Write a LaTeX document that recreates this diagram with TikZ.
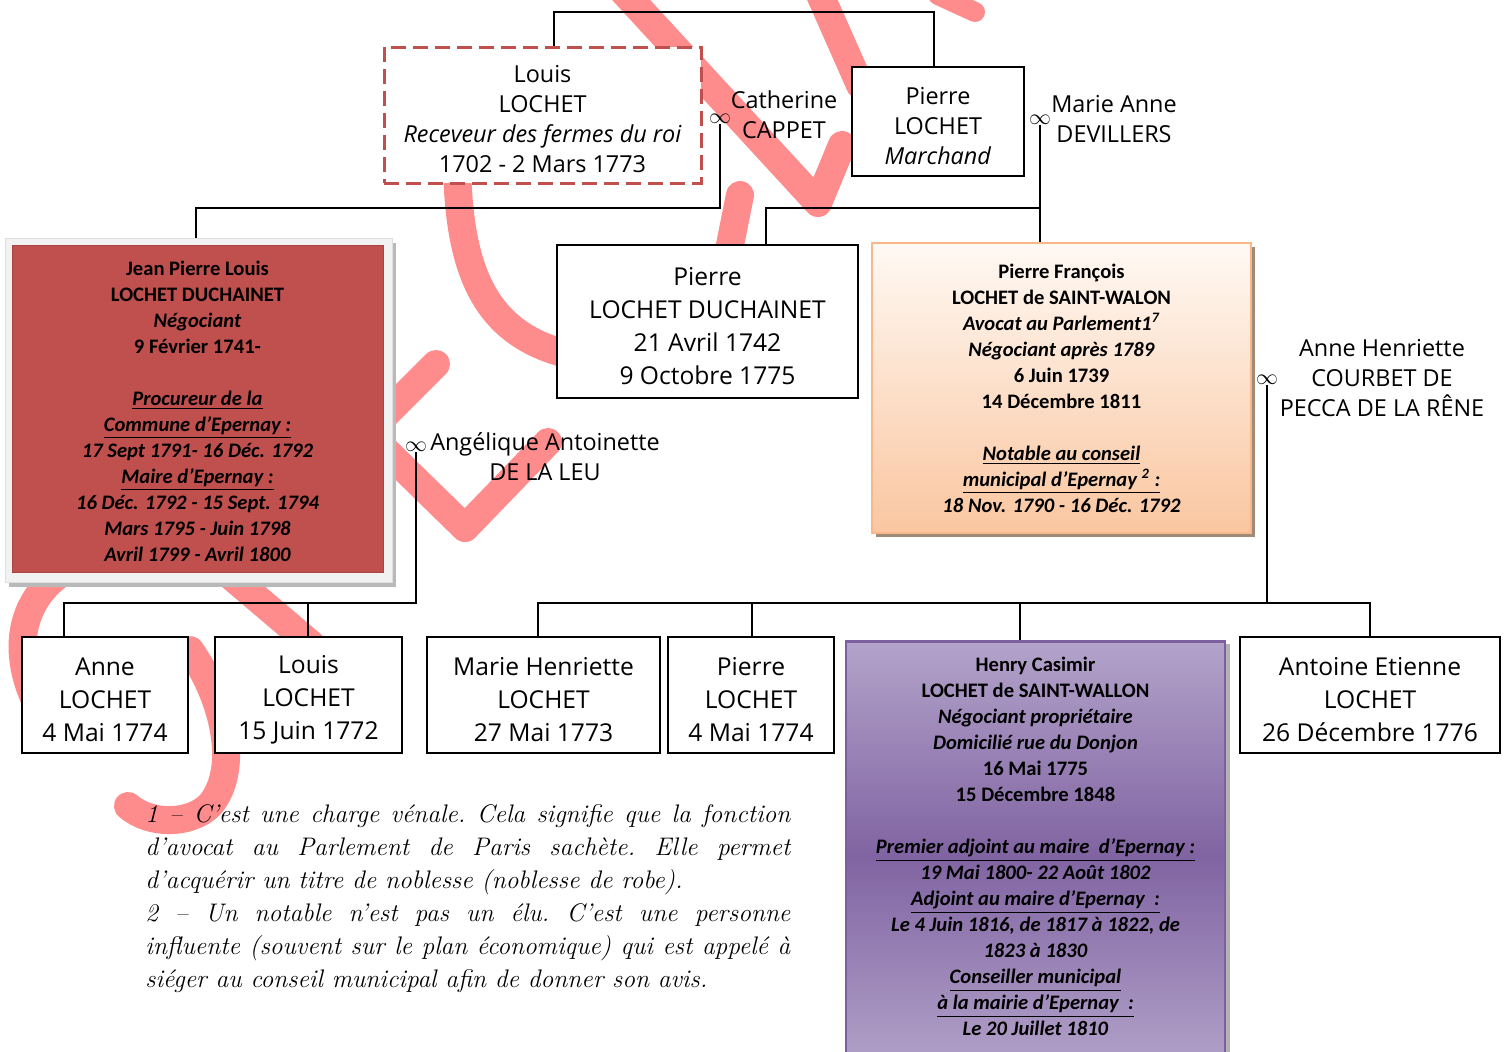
\documentclass[tikz,border=0pt]{standalone}
\usepackage{fontspec}
\newfontfamily\comic{Open Sans}
\newfontfamily\calib{Carlito}
\definecolor{boxred}{HTML}{C0504D}
\definecolor{boxredd}{HTML}{A94441}
\definecolor{wmred}{HTML}{FF8C8C}
\definecolor{orline}{HTML}{F8B88A}
\definecolor{ortop}{HTML}{FFF9F4}
\definecolor{orbot}{HTML}{FAC6A0}
\definecolor{orshadow}{HTML}{A08A78}
\definecolor{pline}{HTML}{7C5F9E}
\definecolor{ptop}{HTML}{B3A3CA}
\definecolor{pmid}{HTML}{8064A2}
\definecolor{framegray}{HTML}{F2F2F2}
\newcommand\topfixA{\rule{0pt}{13pt}}
\newcommand\topfixB{\rule{0pt}{13.5pt}}
\begin{document}
\begin{tikzpicture}[x=0.5pt,y=-0.5pt,
  wmark/.style={line width=14pt, draw=wmred, line cap=round, line join=round},
  conn/.style={line width=0.9pt},
  wbox/.style={draw, line width=1pt, fill=white, align=center, inner sep=0pt},
  comicA/.style={font=\comic\fontsize{11.7}{15}\selectfont},
  comicB/.style={font=\comic\fontsize{12.3}{16.5}\selectfont},
  calb/.style={font=\calib\bfseries\fontsize{10.3}{13}\selectfont},
  inf/.style={inner sep=0pt, font=\fontsize{11}{11}\selectfont},
  spouse/.style={comicA, align=center, inner sep=0pt},
]
\useasboundingbox (0,0) rectangle (1505,1051);
\clip (0,0) rectangle (1505,1051);
\fill[white] (0,0) rectangle (1505,1051);

% watermark strokes
\draw[wmark] (622,-10) -- (818,203) -- (842,145);
\draw[wmark] (818,-10) -- (860,85);
\draw[wmark, line width=10pt] (938,-5) -- (975,12);
\draw[wmark] (457,160) .. controls (458,280) and (490,340) .. (580,357);
\draw[wmark] (740,195) -- (727,260);
\draw[wmark] (436,364) -- (380,420);
\draw[wmark] (380,445) -- (465,528) -- (548,442);
\draw[wmark] (85,560) .. controls (25,585) and (8,640) .. (35,700);
\draw[wmark] (212,560) -- (312,645);
\draw[wmark] (190,650) .. controls (225,700) and (240,770) .. (210,805) .. controls (190,825) and (150,825) .. (128,806);

% generation 1
\node[draw=boxred, line width=1.5pt, dash pattern=on 7.5pt off 3.5pt, fill=white,
      minimum width=158.5pt, minimum height=68pt, align=center, inner sep=0pt, comicA]
      (louis) at (542.5,115) {\topfixA Louis\\LOCHET\\\textit{Receveur des fermes du roi}\\1702 - 2 Mars 1773};
\node[wbox, minimum width=86pt, minimum height=54.5pt, comicA] (pierrel) at (938,121.5)
      {\topfixA Pierre\\LOCHET\\\textit{Marchand}};
\node[spouse] (cath) at (784,115) {Catherine\\CAPPET};
\node[spouse] (marieanne) at (1114,119) {Marie Anne\\DEVILLERS};
\node[inf] (inf1) at (720,119) {$\infty$};
\node[inf] (inf2) at (1040,120) {$\infty$};

% generation 2
\fill[gray!55] (9,243) rectangle (396,587);
\node[draw=gray!25, fill=framegray, minimum width=193.5pt, minimum height=172pt, inner sep=0pt]
      (jplframe) at (198.5,410) {};
\node[draw=boxredd, line width=0.5pt, fill=boxred, minimum width=185.5pt, minimum height=163.5pt,
      align=center, inner sep=0pt, calb] (jpl) at (197.5,408.5)
      {\rule{0pt}{10pt}Jean Pierre Louis\\LOCHET DUCHAINET\\\textit{Négociant}\\9 Février 1741-\\\mbox{}\\
       \underline{\textit{Procureur de la}}\\\underline{\textit{Commune d’Epernay :}}\\
       \textit{17 Sept 1791- 16 Déc. 1792}\\\underline{\textit{Maire d’Epernay :}}\\
       \textit{16 Déc. 1792 - 15 Sept. 1794}\\\textit{Mars 1795 - Juin 1798}\\
       \textit{Avril 1799 - Avril 1800}};
\node[wbox, minimum width=150.5pt, minimum height=76.5pt, comicB] (pduch) at (707.5,321.5)
      {\topfixB Pierre\\LOCHET DUCHAINET\\21 Avril 1742\\9 Octobre 1775};
\fill[orshadow] (876,247) rectangle (1255,537);
\node[draw=orline, line width=1.2pt, top color=ortop, bottom color=orbot, minimum width=189.5pt,
      minimum height=145pt, align=center, inner sep=0pt, calb] (pf) at (1061.5,388)
      {Pierre François\\LOCHET de SAINT-WALON\\\textit{Avocat au Parlement1\textsuperscript{7}}\\
       \textit{Négociant après 1789}\\6 Juin 1739\\14 Décembre 1811\\\mbox{}\\
       \underline{\textit{Notable au conseil}}\\\underline{\textit{municipal d’Epernay \textsuperscript{2} :}}\\
       \textit{18 Nov. 1790 - 16 Déc. 1792}};
\node[spouse] (angel) at (545,457) {Angélique Antoinette\\DE LA LEU};
\node[spouse] (anneh) at (1382,378) {Anne Henriette\\COURBET DE\\PECCA DE LA RÊNE};
\node[inf] (inf3) at (416,447) {$\infty$};
\node[inf] (inf4) at (1267,380) {$\infty$};

% generation 3
\node[wbox, minimum width=83pt, minimum height=58pt, comicB] (anne) at (105,695) {\topfixB Anne\\LOCHET\\4 Mai 1774};
\node[wbox, minimum width=93.5pt, minimum height=58pt, comicB] (louis2) at (308.5,695) {\topfixB Louis\\LOCHET\\15 Juin 1772};
\node[wbox, minimum width=116.5pt, minimum height=58pt, comicB] (marie) at (543.5,695) {\topfixB Marie Henriette\\LOCHET\\27 Mai 1773};
\node[wbox, minimum width=83pt, minimum height=58pt, comicB] (pierre2) at (751,695) {\topfixB Pierre\\LOCHET\\4 Mai 1774};
\node[wbox, minimum width=130pt, minimum height=58pt, comicB] (antoine) at (1370,695) {\topfixB Antoine Etienne\\LOCHET\\26 Décembre 1776};
\fill[gray!60] (850,644) rectangle (1230,1070);
\node[draw=pline, line width=1.3pt, top color=ptop, bottom color=ptop, middle color=pmid,
      minimum width=189.5pt, minimum height=215pt, anchor=north, inner sep=0pt] (henry) at (1035.5,640) {};
\node[anchor=north, align=center, inner sep=0pt, calb] (henrytext) at (1035.5,657)
      {Henry Casimir\\LOCHET de SAINT-WALLON\\\textit{Négociant propriétaire}\\
       \textit{Domicilié rue du Donjon}\\16 Mai 1775\\15 Décembre 1848\\\mbox{}\\
       \underline{\textit{Premier adjoint au maire\ \ d’Epernay :}}\\\textit{19 Mai 1800- 22 Août 1802}\\
       \underline{\textit{Adjoint au maire d’Epernay\ \ :}}\\\textit{Le 4 Juin 1816, de 1817 à 1822, de}\\
       \textit{1823 à 1830}\\\underline{\textit{Conseiller municipal}}\\
       \underline{\textit{à la mairie d’Epernay\ \ :}}\\\textit{Le 20 Juillet 1810}};

% connectors
\coordinate (t1) at (554,12); \coordinate (t2) at (934,12);
\draw[conn] (t1 |- louis.north) -- (t1) -- (t2) -- (t2 |- pierrel.north);
\coordinate (c1) at (720,208); \coordinate (c1l) at (196,208);
\draw[conn] (inf1.south) -- (c1) -- (c1l) -- (c1l |- jplframe.north);
\coordinate (c2) at (1040,208); \coordinate (c2l) at (766,208);
\draw[conn] (inf2.south) -- (c2) -- (c2l) -- (c2l |- pduch.north);
\draw[conn] (c2) -- (c2 |- pf.north);
\coordinate (c3) at (416,603); \coordinate (c3l) at (64,603); \coordinate (c3m) at (308,603);
\draw[conn] (inf3.south) -- (c3) -- (c3l) -- (c3l |- anne.north);
\draw[conn] (c3m) -- (c3m |- louis2.north);
\coordinate (c4) at (1267,603); \coordinate (c4l) at (538,603); \coordinate (c4r) at (1370,603);
\coordinate (c4a) at (752,603); \coordinate (c4b) at (1020,603);
\draw[conn] (inf4.south) -- (c4);
\draw[conn] (c4l |- marie.north) -- (c4l) -- (c4r) -- (c4r |- antoine.north);
\draw[conn] (c4a) -- (c4a |- pierre2.north);
\draw[conn] (c4b) -- (c4b |- henry.north);

% footnotes
\node[anchor=north west, inner sep=0pt, align=left, font=\itshape\frenchspacing\fontsize{12.7}{16.5}\selectfont] (notes) at (145,804)
 {\makebox[322.5pt][s]{1 – C’est une charge vénale. Cela signifie que la fonction}\\
  \makebox[322.5pt][s]{d’avocat au Parlement de Paris sachète. Elle permet}\\
  d’acquérir un titre de noblesse (noblesse de robe).\\
  \makebox[322.5pt][s]{2 – Un notable n’est pas un élu. C’est une personne}\\
  \makebox[322.5pt][s]{influente (souvent sur le plan économique) qui est appelé à}\\
  siéger au conseil municipal afin de donner son avis.};
\end{tikzpicture}
\end{document}
